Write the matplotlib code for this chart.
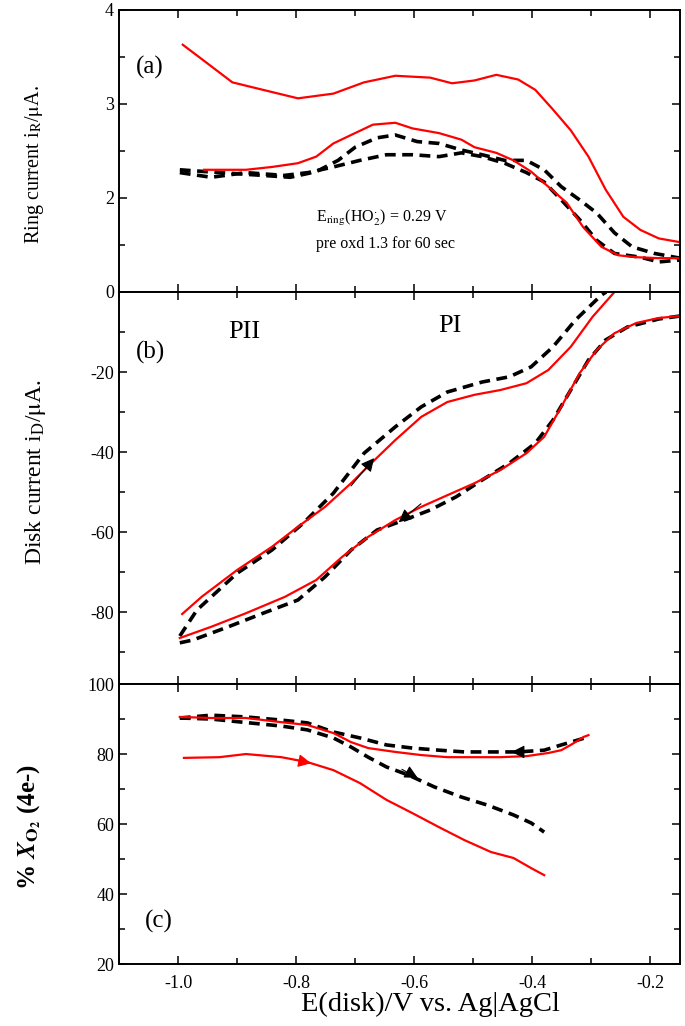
import matplotlib
matplotlib.use('Agg')
import matplotlib.pyplot as plt
from matplotlib.ticker import MultipleLocator, FixedLocator

plt.rcParams['font.family'] = ['Liberation Serif', 'DejaVu Serif']
plt.rcParams['mathtext.fontset'] = 'stix'
plt.rcParams['axes.unicode_minus'] = False

# panel (a): ring current, uA
ring_red_hi_E = [-0.992, -0.952, -0.908, -0.856, -0.797, -0.737, -0.685, -0.632, -0.573, -0.536,
                 -0.498, -0.461, -0.424, -0.395, -0.365, -0.335, -0.305, -0.276, -0.246, -0.217,
                 -0.186, -0.15]
ring_red_hi_i = [3.63, 3.44, 3.23, 3.15, 3.06, 3.11, 3.23, 3.30, 3.28, 3.22,
                 3.25, 3.31, 3.26, 3.15, 2.94, 2.72, 2.44, 2.09, 1.80, 1.66,
                 1.57, 1.53]
ring_red_lo_E = [-0.956, -0.885, -0.841, -0.797, -0.766, -0.737, -0.707, -0.670, -0.632, -0.603,
                 -0.558, -0.520, -0.498, -0.461, -0.432, -0.402, -0.373, -0.342, -0.314, -0.283,
                 -0.254, -0.224, -0.186, -0.15]
ring_red_lo_i = [2.30, 2.30, 2.33, 2.37, 2.44, 2.58, 2.67, 2.78, 2.80, 2.74,
                 2.69, 2.62, 2.54, 2.48, 2.40, 2.28, 2.12, 1.95, 1.69, 1.48,
                 1.39, 1.37, 1.36, 1.36]
ring_blk_hi_E = [-0.997, -0.930, -0.856, -0.810, -0.766, -0.729, -0.700, -0.663, -0.632, -0.595,
                 -0.558, -0.520, -0.485, -0.447, -0.410, -0.380, -0.351, -0.320, -0.291, -0.261,
                 -0.231, -0.193, -0.15]
ring_blk_hi_i = [2.30, 2.27, 2.24, 2.22, 2.28, 2.40, 2.54, 2.64, 2.67, 2.60,
                 2.58, 2.51, 2.46, 2.40, 2.40, 2.30, 2.12, 1.98, 1.84, 1.63,
                 1.48, 1.41, 1.36]
ring_blk_lo_E = [-0.997, -0.944, -0.885, -0.820, -0.780, -0.737, -0.692, -0.647, -0.603, -0.558,
                 -0.520, -0.485, -0.447, -0.410, -0.380, -0.351, -0.320, -0.291, -0.261, -0.217,
                 -0.186, -0.15]
ring_blk_lo_i = [2.27, 2.22, 2.27, 2.24, 2.27, 2.33, 2.40, 2.46, 2.46, 2.44,
                 2.48, 2.44, 2.37, 2.27, 2.17, 1.98, 1.77, 1.55, 1.41, 1.37,
                 1.32, 1.34]

# panel (b): disk current, uA
disk_red_up_E = [-0.993, -0.960, -0.900, -0.841, -0.797, -0.751, -0.707, -0.670, -0.632, -0.588,
                 -0.544, -0.498, -0.454, -0.410, -0.373, -0.335, -0.298, -0.261]
disk_red_up_i = [-80.5, -76.2, -69.5, -63.7, -58.7, -53.7, -47.8, -42.4, -37.0, -31.2,
                 -27.5, -25.7, -24.5, -22.8, -19.5, -13.7, -6.2, 0.0]
disk_red_dn_E = [-0.997, -0.944, -0.885, -0.819, -0.766, -0.722, -0.678, -0.632, -0.588, -0.544,
                 -0.498, -0.454, -0.410, -0.380, -0.351, -0.320, -0.291, -0.261, -0.224, -0.186,
                 -0.15]
disk_red_dn_i = [-86.5, -83.7, -80.3, -76.2, -72.0, -66.2, -61.2, -57.0, -53.7, -50.8,
                 -47.8, -44.5, -40.3, -36.2, -28.7, -20.3, -14.5, -10.3, -7.75, -6.5,
                 -6.0]
disk_blk_up_E = [-0.997, -0.968, -0.900, -0.841, -0.788, -0.737, -0.685, -0.632, -0.588, -0.544,
                 -0.485, -0.439, -0.402, -0.365, -0.327, -0.283, -0.275]
disk_blk_up_i = [-86.0, -79.5, -70.3, -64.5, -57.8, -50.3, -40.3, -33.7, -28.7, -25.0,
                 -22.5, -21.2, -18.7, -13.7, -7.0, -0.75, 0.0]
disk_blk_dn_E = [-0.997, -0.975, -0.915, -0.856, -0.797, -0.751, -0.707, -0.663, -0.617, -0.573,
                 -0.529, -0.485, -0.439, -0.395, -0.365, -0.335, -0.305, -0.276, -0.239, -0.186,
                 -0.15]
disk_blk_dn_i = [-87.7, -87.0, -83.7, -80.3, -77.0, -71.2, -64.5, -59.5, -57.0, -54.5,
                 -51.2, -47.0, -42.8, -37.8, -32.0, -24.5, -17.0, -12.0, -8.75, -6.75,
                 -6.0]

# panel (c): % X_O2 (4e-)
x_red_rev_E = [-0.997, -0.944, -0.885, -0.825, -0.781, -0.737, -0.707, -0.678, -0.632, -0.588,
               -0.544, -0.498, -0.454, -0.410, -0.373, -0.351, -0.335, -0.313, -0.305]
x_red_rev_v = [90.6, 90.3, 90.3, 89.1, 88.3, 86.0, 83.4, 81.7, 80.6, 79.7,
               79.1, 79.1, 79.1, 79.4, 80.3, 81.1, 82.6, 84.9, 85.4]
x_red_fwd_E = [-0.990, -0.930, -0.885, -0.825, -0.781, -0.737, -0.692, -0.647, -0.603, -0.558,
               -0.515, -0.470, -0.432, -0.402, -0.380]
x_red_fwd_v = [78.9, 79.1, 80.0, 79.1, 77.7, 75.4, 71.7, 66.9, 63.1, 59.1,
               55.4, 52.0, 50.3, 47.4, 45.4]
x_blk_rev_E = [-0.997, -0.944, -0.885, -0.825, -0.781, -0.737, -0.692, -0.647, -0.603, -0.558,
               -0.515, -0.470, -0.424, -0.380, -0.351, -0.305]
x_blk_rev_v = [90.3, 91.1, 90.6, 89.7, 88.9, 86.3, 84.6, 82.6, 81.7, 81.1,
               80.6, 80.6, 80.6, 81.1, 82.6, 84.9]
x_blk_fwd_E = [-0.997, -0.944, -0.885, -0.825, -0.781, -0.737, -0.707, -0.678, -0.647, -0.610,
               -0.566, -0.520, -0.476, -0.432, -0.402, -0.380]
x_blk_fwd_v = [90.3, 90.0, 89.0, 88.0, 86.9, 84.6, 82.0, 79.1, 76.3, 74.0,
               70.6, 67.7, 65.4, 62.6, 60.3, 57.7]

# arrows: (tail E, tail y, head E, head y, colour)
disk_arrows = [(-0.71, -49.0, -0.665, -41.0, 'black'),
               (-0.585, -52.5, -0.63, -58.0, 'black')]
x_arrows = [(-0.81, 78.6, -0.77, 77.2, 'red'),
            (-0.625, 76.0, -0.59, 72.8, 'black'),
            (-0.40, 80.6, -0.44, 80.6, 'black')]


def style_axis(ax):
    ax.set_xlim(-1.1, -0.15)
    ax.xaxis.set_major_locator(MultipleLocator(0.2))
    ax.xaxis.set_minor_locator(MultipleLocator(0.1))
    ax.tick_params(which='both', direction='in', top=True, right=True, labelsize=13)
    ax.tick_params(which='major', length=6, width=1.1)
    ax.tick_params(which='minor', length=4, width=1.1)
    for sp in ax.spines.values():
        sp.set_linewidth(1.4)


def draw_arrows(ax, arrows):
    for x0, y0, x1, y1, c in arrows:
        ax.annotate('', xy=(x1, y1), xytext=(x0, y0),
                    arrowprops=dict(arrowstyle='-|>', color=c, lw=0.8, mutation_scale=20))


def main():
    fig = plt.figure(figsize=(6.85, 10.26), dpi=100)
    left, width = 0.1737, 0.819
    ax_a = fig.add_axes([left, 0.7154, width, 0.2749])
    ax_b = fig.add_axes([left, 0.3333, width, 0.3821])
    ax_c = fig.add_axes([left, 0.0604, width, 0.2729])

    dash = dict(color='black', lw=2.6, dashes=(3.0, 1.8))
    red = dict(color='red', lw=1.6)

    # (a)
    ax_a.plot(ring_blk_hi_E, ring_blk_hi_i, **dash)
    ax_a.plot(ring_blk_lo_E, ring_blk_lo_i, **dash)
    ax_a.plot(ring_red_hi_E, ring_red_hi_i, **red)
    ax_a.plot(ring_red_lo_E, ring_red_lo_i, **red)
    style_axis(ax_a)
    ax_a.set_ylim(1, 4)
    ax_a.yaxis.set_major_locator(FixedLocator([1, 2, 3, 4]))
    ax_a.yaxis.set_minor_locator(MultipleLocator(0.5))
    ax_a.set_yticklabels(['', '2', '3', '4'])
    ax_a.tick_params(labelbottom=False)
    ax_a.text(0.03, 0.775, '(a)', transform=ax_a.transAxes, fontsize=18)
    ax_a.text(-0.767, 1.75, r'E$_{\mathrm{ring}}$(HO$_2^{\cdot}$) = 0.29 V', fontsize=11.5)
    ax_a.text(-0.767, 1.47, 'pre oxd 1.3 for 60 sec', fontsize=11.5)

    # (b)
    ax_b.plot(disk_blk_up_E, disk_blk_up_i, **dash)
    ax_b.plot(disk_blk_dn_E, disk_blk_dn_i, **dash)
    ax_b.plot(disk_red_up_E, disk_red_up_i, **red)
    ax_b.plot(disk_red_dn_E, disk_red_dn_i, **red)
    draw_arrows(ax_b, disk_arrows)
    style_axis(ax_b)
    ax_b.set_ylim(-98, 0)
    ax_b.yaxis.set_major_locator(MultipleLocator(20))
    ax_b.yaxis.set_minor_locator(MultipleLocator(10))
    ax_b.tick_params(labelbottom=False)
    ax_b.text(0.03, 0.83, '(b)', transform=ax_b.transAxes, fontsize=18)
    ax_b.text(-0.915, -11.5, 'PII', fontsize=19)
    ax_b.text(-0.56, -10.0, 'PI', fontsize=19)

    # (c)
    ax_c.plot(x_blk_rev_E, x_blk_rev_v, **dash)
    ax_c.plot(x_blk_fwd_E, x_blk_fwd_v, **dash)
    ax_c.plot(x_red_rev_E, x_red_rev_v, **red)
    ax_c.plot(x_red_fwd_E, x_red_fwd_v, **red)
    draw_arrows(ax_c, x_arrows)
    style_axis(ax_c)
    ax_c.set_ylim(20, 100)
    ax_c.yaxis.set_major_locator(MultipleLocator(20))
    ax_c.yaxis.set_minor_locator(MultipleLocator(10))
    ax_c.set_xticks([-1.0, -0.8, -0.6, -0.4, -0.2])
    ax_c.set_xticklabels(['-1.0', '-0.8', '-0.6', '-0.4', '-0.2'])
    ax_c.tick_params(axis='x', pad=8)
    ax_c.text(0.047, 0.13, '(c)', transform=ax_c.transAxes, fontsize=18)

    fig.text(0.628, 0.021, 'E(disk)/V vs. Ag|AgCl', fontsize=20.5, ha='center', va='center')
    fig.text(0.051, 0.84, r'Ring current i$_\mathrm{R}$/$\mathrm{\mu}$A.', fontsize=14.5,
             rotation=90, ha='center', va='center')
    fig.text(0.052, 0.54, r'Disk current i$_\mathrm{D}$/$\mathrm{\mu}$A.', fontsize=17,
             rotation=90, ha='center', va='center')
    fig.text(0.042, 0.194, r'% $\mathbfit{X}_{\mathbf{O_2}}$ (4e-)', fontsize=18, fontweight='bold',
             rotation=90, ha='center', va='center')

    plt.savefig('out.png', dpi=100)
    plt.close()


if __name__ == '__main__':
    main()
